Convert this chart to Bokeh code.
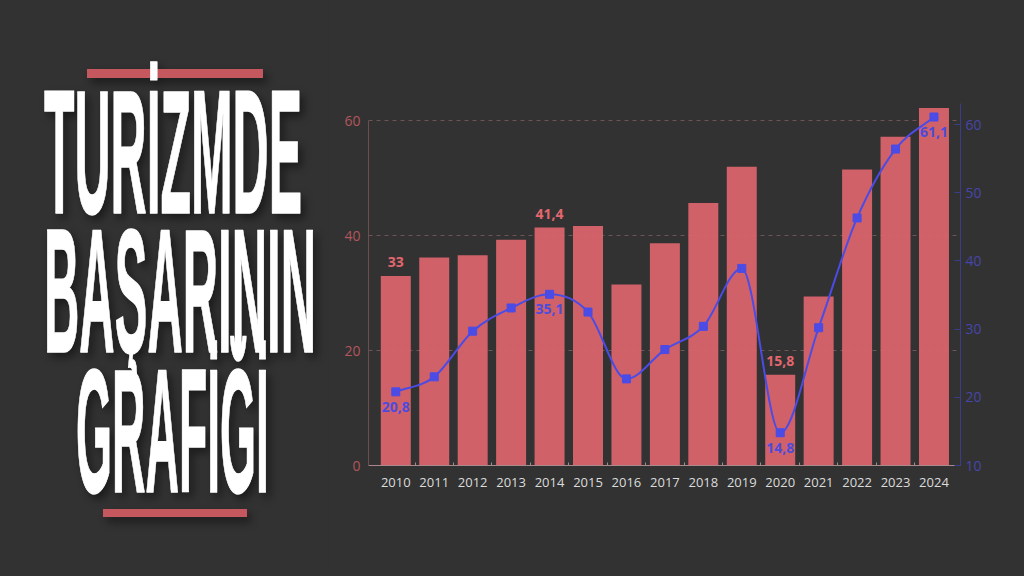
from bokeh.plotting import figure
from bokeh.layouts import row
from bokeh.models import Range1d, LinearAxis, FixedTicker, Div, GlobalInlineStyleSheet
from bokeh.core.properties import value
from bokeh.embed import file_html
from bokeh.resources import INLINE

# veriler
years = list(range(2010, 2025))
bar_values = [33.0, 36.2, 36.6, 39.3, 41.4, 41.7, 31.5, 38.7, 45.7, 52.0, 15.8, 29.4, 51.5, 57.2, 62.2]
line_values = [20.8, 23.0, 29.7, 33.1, 35.1, 32.5, 22.7, 27.0, 30.4, 38.9, 14.8, 30.2, 46.3, 56.4, 61.1]
labelled_years = [2010, 2014, 2020, 2024]
left_ticks = [0, 20, 40, 60]
right_ticks = [10, 20, 30, 40, 50, 60]
title_lines = ["TURİZMDE", "BAŞARININ", "GRAFİĞİ"]

BG = "#323232"
BAR = "#d9646c"
BLUE = "#4b4be6"
FONT = "Open Sans"


def tr(v):
    return f"{v:g}".replace(".", ",")


# monotone kübik eğri için teğetler (Fritsch-Carlson)
def monotone_slopes(ys):
    n = len(ys)
    d = [ys[i + 1] - ys[i] for i in range(n - 1)]
    m = [0.0] * n
    m[0], m[-1] = d[0], d[-1]
    for i in range(1, n - 1):
        m[i] = 0.0 if d[i - 1] * d[i] <= 0 else (d[i - 1] + d[i]) / 2
    for i in range(n - 1):
        if d[i] == 0:
            m[i] = m[i + 1] = 0.0
            continue
        a, b = m[i] / d[i], m[i + 1] / d[i]
        s = a * a + b * b
        if s > 9:
            t = 3 / s ** 0.5
            m[i], m[i + 1] = t * a * d[i], t * b * d[i]
    return m


p = figure(frame_width=592, frame_height=362,
           min_border_left=40, min_border_right=56, min_border_top=103, min_border_bottom=103,
           x_range=Range1d(2009.29, 2024.69), y_range=Range1d(0, 63),
           toolbar_location=None, output_backend="svg")
p.extra_y_ranges = {"right": Range1d(10, 63.08)}
p.background_fill_color = BG
p.border_fill_color = BG
p.outline_line_color = None

# çubuklar
p.vbar(x=years, top=bar_values, width=0.78, fill_color=BAR, fill_alpha=0.95, line_color=None)

# eğri
m = monotone_slopes(line_values)
p.bezier(x0=years[:-1], y0=line_values[:-1], x1=years[1:], y1=line_values[1:],
         cx0=[x + 1 / 3 for x in years[:-1]],
         cy0=[line_values[i] + m[i] / 3 for i in range(len(years) - 1)],
         cx1=[x - 1 / 3 for x in years[1:]],
         cy1=[line_values[i + 1] - m[i + 1] / 3 for i in range(len(years) - 1)],
         line_color=BLUE, line_width=2, y_range_name="right")
p.scatter(years, line_values, marker="square", size=8, color=BLUE, y_range_name="right")

# etiketler
idx = [years.index(y) for y in labelled_years]
p.text([years[i] for i in idx], [bar_values[i] for i in idx], text=[tr(bar_values[i]) for i in idx],
       text_align="center", text_baseline="middle", y_offset=-14,
       text_font=value(FONT), text_font_style="bold", text_font_size="14px", text_color="#e2676f")
p.text([years[i] for i in idx], [line_values[i] for i in idx], text=[tr(line_values[i]) for i in idx],
       text_align="center", text_baseline="middle", y_offset=15, y_range_name="right",
       text_font=value(FONT), text_font_style="bold", text_font_size="14px", text_color="#4c4cdc")

# eksenler
p.xgrid.grid_line_color = None
p.ygrid.ticker = FixedTicker(ticks=[20, 40, 60])
p.ygrid.grid_line_color = "#6e5457"
p.ygrid.grid_line_dash = "4 4"

xa = p.xaxis[0]
xa.ticker = FixedTicker(ticks=years, minor_ticks=[y + 0.5 for y in years[:-1]])
xa.axis_line_color = "#a88a8c"
xa.major_tick_line_color = None
xa.major_tick_out = 0
xa.minor_tick_in = 3
xa.minor_tick_out = 0
xa.minor_tick_line_color = "#a88a8c"
xa.major_label_standoff = 12
xa.major_label_text_font = FONT
xa.major_label_text_font_size = "13px"
xa.major_label_text_color = "#dcdcdc"

ya = p.yaxis[0]
ya.ticker = FixedTicker(ticks=left_ticks)
ya.bounds = (0, 60)
ya.axis_line_color = "#6e4c50"
ya.major_tick_line_color = None
ya.minor_tick_line_color = None
ya.major_tick_out = 0
ya.major_label_standoff = 8
ya.major_label_text_font = FONT
ya.major_label_text_font_size = "14px"
ya.major_label_text_color = "#b2565c"

ra = LinearAxis(y_range_name="right", ticker=FixedTicker(ticks=right_ticks))
ra.axis_line_color = "#3c3c8c"
ra.major_tick_line_color = "#3c3c8c"
ra.major_tick_in = 6
ra.major_tick_out = 0
ra.minor_tick_line_color = None
ra.major_label_standoff = 5
ra.major_label_text_font = FONT
ra.major_label_text_font_size = "14px"
ra.major_label_text_color = "#4646aa"
p.add_layout(ra, "right")

# başlık: (x, taban çizgisi, hedef genişlik, tahmini doğal genişlik em)
TITLE_SIZE = 176
title_pos = [(44, 213, 258, 5.25), (44, 352, 272, 5.6), (76, 492, 193, 3.95)]
texts = ""
for t, (x, y, w, em) in zip(title_lines, title_pos):
    sx = w / (em * TITLE_SIZE)
    texts += (f'<text transform="translate({x},{y}) scale({sx:.4f},1)" x="0" y="0" '
              f'textLength="{w / sx:.1f}" lengthAdjust="spacingAndGlyphs">{t}</text>')
svg = (
    '<svg width="328" height="568" xmlns="http://www.w3.org/2000/svg" '
    'style="display:block;filter:drop-shadow(4px 5px 4px rgba(0,0,0,0.45))">'
    '<rect x="87" y="69" width="176" height="9" fill="#c4585e"/>'
    '<rect x="103" y="509" width="144" height="8" fill="#c4585e"/>'
    '<g fill="#ffffff" stroke="#ffffff" stroke-width="1.5" stroke-linejoin="round" '
    f'font-family="Roboto" font-weight="700" font-size="{TITLE_SIZE}">'
    + texts + '</g></svg>')
title = Div(text=svg, width=328, height=568, margin=0,
            styles={"background-color": BG, "padding": "0"},
            stylesheets=[GlobalInlineStyleSheet(css=f"body {{ background-color: {BG}; }}")])

page = row(title, p, spacing=0)
open("out.html", "w").write(file_html(page, INLINE))
